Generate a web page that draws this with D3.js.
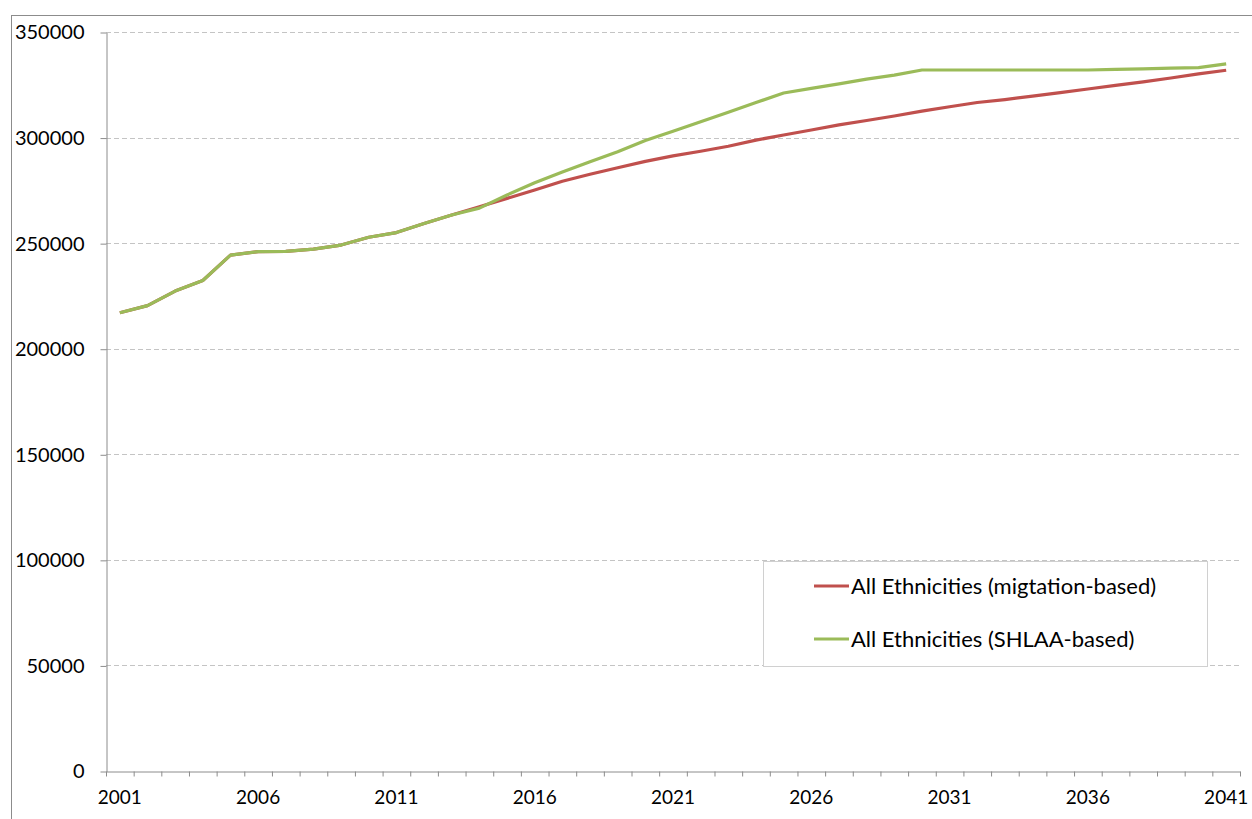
<!DOCTYPE html>
<html lang="en">
	<head>
		<meta charset="utf-8">
		<title>All Ethnicities projection</title>
		<script type="text/javascript" src="https://cdn.jsdelivr.net/npm/d3@7"></script>
		<style type="text/css">
			body { margin: 0; background: #fff; }
			text { font-family: Lato, "Open Sans", sans-serif; fill: #000; }
		</style>
	</head>
	<body>
		<script type="text/javascript">

			//Chart data
			var years = d3.range(2001, 2042);
			var labelYears = [2001, 2006, 2011, 2016, 2021, 2026, 2031, 2036, 2041];
			var yTicks = [0, 50000, 100000, 150000, 200000, 250000, 300000, 350000];

			var migration = [217000, 220400, 227300, 232300, 244300, 246000, 246100, 247200, 249100, 252800,
							 255000, 259300, 263300, 267200, 271200, 275200, 279300, 282600, 285700, 288700,
							 291300, 293500, 295900, 298800, 301200, 303600, 306000, 308100, 310200, 312500,
							 314600, 316600, 318000, 319600, 321300, 323000, 324700, 326400, 328200, 330200,
							 331900];

			var shlaa = [217000, 220400, 227300, 232300, 244300, 246000, 246100, 247200, 249100, 252800,
						 255000, 259300, 263300, 266600, 272800, 278600, 283700, 288600, 293300, 298600,
						 303000, 307500, 312000, 316600, 321100, 323300, 325400, 327700, 329600, 332000,
						 332000, 332000, 332000, 332000, 332000, 332000, 332300, 332500, 332900, 333100,
						 334900];

			var seriesNames = ["All Ethnicities (migtation-based)", "All Ethnicities (SHLAA-based)"];
			var seriesColors = ["#C0504D", "#9BBB59"];

			//Size of the page and plot area
			var w = 1252;
			var h = 819;
			var plotLeft = 106, plotRight = 1240, plotTop = 32, plotBottom = 771;

			var svg = d3.select("body")
						.append("svg")
						.attr("width", w)
						.attr("height", h);

			//Outer chart border
			svg.append("rect")
			   .attr("x", 11.5)
			   .attr("y", 15.5)
			   .attr("width", 1260)
			   .attr("height", 840)
			   .attr("fill", "none")
			   .attr("stroke", "#8c8c8c")
			   .attr("stroke-width", 1);

			//Scales
			var xBand = d3.scaleBand()
						  .domain(years)
						  .range([plotLeft, plotRight])
						  .padding(0);

			var xEdge = d3.scaleLinear()
						  .domain([2001, 2042])
						  .range([plotLeft, plotRight]);

			var yScale = d3.scaleLinear()
						   .domain([0, 350000])
						   .range([plotBottom, plotTop]);

			//Dashed gridlines
			svg.append("g")
			   .selectAll("line")
			   .data(yTicks.slice(1))
			   .enter()
			   .append("line")
			   .attr("x1", plotLeft)
			   .attr("x2", plotRight)
			   .attr("y1", function(d) { return Math.round(yScale(d)) + 0.5; })
			   .attr("y2", function(d) { return Math.round(yScale(d)) + 0.5; })
			   .attr("stroke", "#c4c4c4")
			   .attr("stroke-width", 1)
			   .attr("stroke-dasharray", "5,3");

			//Y axis
			var yAxis = svg.append("g")
						   .attr("transform", "translate(" + (plotLeft + 0.5) + ",0.5)")
						   .call(d3.axisLeft(yScale)
								   .tickValues(yTicks)
								   .tickFormat(d3.format("d"))
								   .tickSize(6)
								   .tickPadding(16)
								   .tickSizeOuter(0));

			//X axis tick marks at category edges
			var xAxis = svg.append("g")
						   .attr("transform", "translate(0," + (plotBottom + 0.5) + ")")
						   .call(d3.axisBottom(xEdge)
								   .tickValues(d3.range(2001, 2043))
								   .tickFormat("")
								   .tickSize(5)
								   .tickSizeOuter(0));

			//X axis labels at category centres
			var xLabels = svg.append("g")
							 .attr("transform", "translate(0," + plotBottom + ")")
							 .call(d3.axisBottom(xBand)
									 .tickValues(labelYears)
									 .tickSize(0)
									 .tickPadding(20));
			xLabels.select(".domain").remove();

			svg.selectAll(".domain, .tick line")
			   .attr("stroke", "#8c8c8c");
			svg.selectAll(".tick text")
			   .attr("font-family", "Lato, sans-serif")
			   .attr("font-size", "19px")
			   .attr("fill", "#000");
			yAxis.selectAll(".tick text")
				 .attr("font-size", "20px");

			//Lines
			var line = d3.line()
						 .x(function(d, i) { return xBand(years[i]) + xBand.bandwidth() / 2; })
						 .y(function(d) { return yScale(d); });

			[migration, shlaa].forEach(function(s, k) {
				svg.append("path")
				   .datum(s)
				   .attr("d", line)
				   .attr("fill", "none")
				   .attr("stroke", seriesColors[k])
				   .attr("stroke-width", 3.2)
				   .attr("stroke-linejoin", "round");
			});

			//Legend
			var legend = svg.append("g");
			legend.append("rect")
				  .attr("x", 763.5)
				  .attr("y", 561.5)
				  .attr("width", 444)
				  .attr("height", 105)
				  .attr("fill", "#fff")
				  .attr("stroke", "#d0d0d0");

			var entries = legend.selectAll("g.entry")
								.data(seriesNames)
								.enter()
								.append("g")
								.attr("class", "entry")
								.attr("transform", function(d, i) {
									return "translate(814," + (586 + i * 53) + ")";
								});

			entries.append("line")
				   .attr("x1", 0)
				   .attr("x2", 35)
				   .attr("y1", 0)
				   .attr("y2", 0)
				   .attr("stroke", function(d, i) { return seriesColors[i]; })
				   .attr("stroke-width", 3);

			entries.append("text")
				   .attr("x", 37)
				   .attr("y", 0)
				   .attr("dy", "0.35em")
				   .attr("font-size", "22px")
				   .text(function(d) { return d; });

		</script>
	</body>
</html>
